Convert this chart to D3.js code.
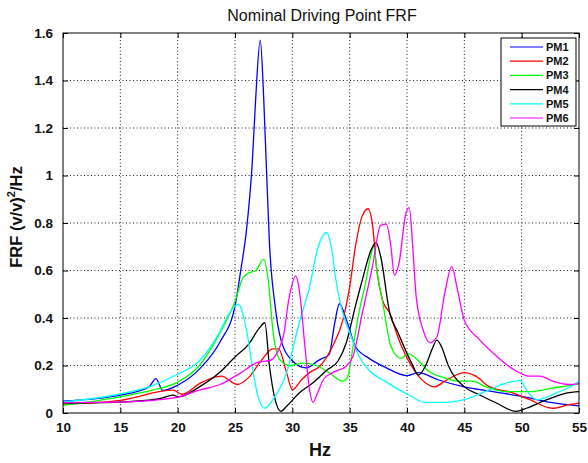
<!DOCTYPE html>
<html><head><meta charset="utf-8">
<script src="https://cdn.jsdelivr.net/npm/d3@7"></script>
<style>body{margin:0;background:#fff;} svg{display:block;font-family:"Liberation Sans",Arial,sans-serif;}</style>
</head><body><svg id="c" width="588" height="463"></svg>
<script>
const seriesNames = ["PM1","PM2","PM3","PM4","PM5","PM6"];
const seriesColors = ["#0000ff","#ff0000","#00ff00","#000000","#00ffff","#ff00ff"];
const xTicks = [10,15,20,25,30,35,40,45,50,55];
const yTicks = [0,0.2,0.4,0.6,0.8,1,1.2,1.4,1.6];

const pm1Hz  = [10,15,17.5,18.1,18.7,20,22,23.7,25,25.5,26,26.5,26.8,27.2,27.5,27.75,28,28.5,29,30,31.2,32.4,33.2,33.7,34.1,34.8,35.5,36.7,38.2,40,41,42.7,45,47.5,50,52.5,55];
const pm1Val = [0.05,0.075,0.11,0.145,0.095,0.117,0.19,0.3,0.45,0.6,0.77,1.05,1.32,1.57,1.33,1.02,0.72,0.45,0.31,0.22,0.19,0.225,0.246,0.38,0.46,0.38,0.28,0.23,0.19,0.157,0.17,0.14,0.11,0.09,0.07,0.045,0.03];

const pm2Hz  = [10,15,19.6,20.4,21.9,23.8,25.2,26.2,27.2,28.3,28.8,29.5,30,30.8,31.5,32.4,33.5,34.4,35,35.5,36.1,36.6,37,37.3,37.9,38.5,39.2,40.4,41.6,42.4,43.3,45,46,47.2,49.3,50.7,52.7,54.1,55];
const pm2Val = [0.037,0.053,0.096,0.079,0.124,0.155,0.12,0.15,0.215,0.27,0.27,0.17,0.098,0.14,0.17,0.197,0.28,0.39,0.53,0.7,0.83,0.86,0.79,0.63,0.47,0.42,0.32,0.197,0.127,0.11,0.134,0.17,0.155,0.11,0.084,0.056,0.02,0.035,0.042];

const pm3Hz  = [10,15,17.8,20,21.9,23.6,25,25.7,26.2,26.8,27.5,27.9,28.3,28.9,29.8,30.9,32.1,33.2,34.4,34.8,35.3,35.8,36.4,36.9,37.1,37.4,37.9,38.6,39.5,40.1,41,41.9,43.3,44.5,45.7,46.9,48.7,50.7,52.7,54.1,55];
const pm3Val = [0.032,0.068,0.096,0.13,0.2,0.33,0.47,0.57,0.59,0.6,0.647,0.56,0.35,0.225,0.2,0.21,0.2,0.17,0.134,0.15,0.28,0.42,0.55,0.675,0.7,0.59,0.46,0.28,0.23,0.25,0.22,0.176,0.148,0.134,0.134,0.11,0.09,0.09,0.105,0.115,0.124];

const pm4Hz  = [10,15,18.4,19.6,20.1,21.9,23.6,25,26.2,27.1,27.6,28,28.5,29,29.5,30.6,31.8,33,34,34.7,35.5,36.1,36.9,37.3,37.7,38.5,39.2,40.4,41,41.6,42.2,42.6,43,43.6,45,46.3,47.8,49.5,50.4,52.2,53.9,55];
const pm4Val = [0.042,0.046,0.06,0.075,0.068,0.11,0.168,0.236,0.29,0.356,0.38,0.2,0.056,0.007,0.028,0.084,0.127,0.18,0.22,0.295,0.45,0.56,0.69,0.717,0.66,0.42,0.34,0.21,0.16,0.197,0.27,0.307,0.28,0.2,0.11,0.077,0.042,0.007,0.02,0.056,0.084,0.09];

const pm5Hz  = [10,15,17.5,20,21.9,23.6,24.5,25.3,26,26.6,27,27.6,28.3,29.5,30.6,31.5,32.2,33,33.4,33.8,34.4,35,35.8,36.7,38.2,40,41.6,43.3,45,47.2,48.7,49.9,50.4,51.3,53,54.4,55];
const pm5Val = [0.046,0.08,0.11,0.163,0.22,0.335,0.42,0.457,0.35,0.17,0.07,0.02,0.056,0.17,0.38,0.53,0.69,0.76,0.7,0.56,0.42,0.34,0.24,0.18,0.13,0.08,0.045,0.045,0.056,0.098,0.127,0.136,0.098,0.056,0.084,0.115,0.134];

const pm6Hz  = [10,15,18.4,20.1,21.9,23.7,25.4,27.1,28,29.2,29.7,30.3,30.6,31.1,31.5,31.8,32.2,32.7,33.5,34.7,35.3,36.1,37,37.7,38.2,38.6,38.9,39.3,39.9,40.2,40.5,40.8,41.4,42,42.6,43.3,43.9,44.4,45,46.3,47.8,49.3,50.7,51.6,52.7,54.1,55];
const pm6Val = [0.044,0.046,0.056,0.068,0.096,0.12,0.166,0.215,0.22,0.32,0.48,0.577,0.52,0.28,0.098,0.045,0.084,0.14,0.17,0.197,0.24,0.42,0.62,0.79,0.795,0.7,0.58,0.63,0.84,0.865,0.7,0.49,0.35,0.296,0.32,0.506,0.616,0.52,0.39,0.31,0.24,0.183,0.155,0.155,0.134,0.12,0.124];

const allHz = [pm1Hz,pm2Hz,pm3Hz,pm4Hz,pm5Hz,pm6Hz];
const allVal = [pm1Val,pm2Val,pm3Val,pm4Val,pm5Val,pm6Val];

const svg = d3.select("#c");
const L=63, R=579, T=33, B=413;
const x = d3.scaleLinear().domain([10,55]).range([L,R]);
const y = d3.scaleLinear().domain([0,1.6]).range([B,T]);

// grid
const g = svg.append("g");
g.selectAll(".vg").data(xTicks.slice(1,-1)).enter().append("line")
  .attr("x1",d=>x(d)).attr("x2",d=>x(d)).attr("y1",T).attr("y2",B)
  .attr("stroke","#222").attr("stroke-width",1).attr("stroke-dasharray","1,2.5");
g.selectAll(".hg").data(yTicks.slice(1,-1)).enter().append("line")
  .attr("y1",d=>y(d)).attr("y2",d=>y(d)).attr("x1",L).attr("x2",R)
  .attr("stroke","#222").attr("stroke-width",1).attr("stroke-dasharray","1,2.5");

// lines
const line = d3.line().curve(d3.curveMonotoneX);
allHz.forEach((hz,i)=>{
  const pts = hz.map((h,j)=>[x(h), y(allVal[i][j])]);
  svg.append("path").attr("d",line(pts)).attr("fill","none")
    .attr("stroke",seriesColors[i]).attr("stroke-width",1.3);
});

// axes (inward ticks)
const xb = d3.axisBottom(x).tickValues(xTicks).tickSize(-5).tickPadding(9).tickFormat(d3.format("d"));
const xt = d3.axisTop(x).tickValues(xTicks).tickSize(-5).tickFormat("");
const yl = d3.axisLeft(y).tickValues(yTicks).tickSize(-5).tickPadding(10).tickFormat(d=>d===0?"0":(d===1?"1":d3.format(".1f")(d)));
const yr = d3.axisRight(y).tickValues(yTicks).tickSize(-5).tickFormat("");
[[xb,`translate(0,${B})`],[xt,`translate(0,${T})`],[yl,`translate(${L},0)`],[yr,`translate(${R},0)`]].forEach(([a,t])=>{
  const gg = svg.append("g").attr("transform",t).call(a);
  gg.select(".domain").remove();
  gg.selectAll("line").attr("stroke","#000");
  gg.selectAll("text").attr("font-size",13.5).attr("font-weight","bold")
    .attr("font-family","Liberation Sans, Arial, sans-serif").attr("fill","#111");
});
svg.append("rect").attr("x",L).attr("y",T).attr("width",R-L).attr("height",B-T)
  .attr("fill","none").attr("stroke","#000").attr("stroke-width",1);

// titles
svg.append("text").attr("x",322).attr("y",21).attr("text-anchor","middle")
  .attr("font-size",16).attr("fill","#111").text("Nominal Driving Point FRF");
svg.append("text").attr("x",320).attr("y",456).attr("text-anchor","middle")
  .attr("font-size",18).attr("font-weight","bold").attr("fill","#111").text("Hz");
const yt = svg.append("text").attr("transform",`translate(22,217) rotate(-90)`)
  .attr("text-anchor","middle").attr("font-size",16.5).attr("font-weight","bold").attr("fill","#111");
yt.append("tspan").text("FRF (v/v)");
yt.append("tspan").attr("dy",-7).attr("font-size",11).text("2");
yt.append("tspan").attr("dy",7).text("/Hz");

// legend
const lg = svg.append("g");
lg.append("rect").attr("x",501).attr("y",38).attr("width",75).attr("height",88)
  .attr("fill","#fff").attr("stroke","#000").attr("stroke-width",1);
seriesNames.forEach((n,i)=>{
  const yy = 47 + i*14.2;
  lg.append("line").attr("x1",510).attr("x2",543).attr("y1",yy).attr("y2",yy)
    .attr("stroke",seriesColors[i]).attr("stroke-width",1.2);
  lg.append("text").attr("x",546).attr("y",yy+4).attr("font-size",11).attr("font-weight","bold")
    .attr("fill","#111").text(n);
});
</script></body></html>
